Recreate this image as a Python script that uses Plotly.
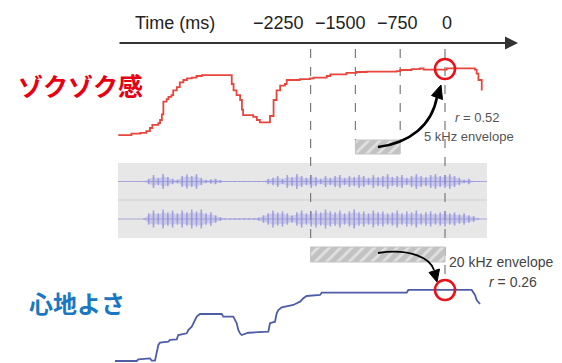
import numpy as np
import plotly.graph_objects as go

# ---------------- data ----------------
tick_values = [-2250, -1500, -750, 0]
tick_labels = ["\u22122250", "\u22121500", "\u2212750", "0"]
axis_title = "Time (ms)"

label_thrill = "ゾクゾク感"
label_comfort = "心地よさ"

# "thrill" rating over time (ms), stepwise
thrill_t = [-5470, -5250, -5100, -5000, -4940, -4900, -4800, -4770, -4740, -4715,
            -4660, -4630, -4580, -4550, -4490, -4440, -4380, -4320, -4240, -4160,
            -4070, -3570, -3540, -3490, -3430, -3400, -3380, -3210, -3150, -3100,
            -2930, -2870, -2820, -2760, -2680, -2650, -2430, -2260, -2200, -1980,
            -1920, -1650, -1480, -1310, -810, -750, -560, -420, -360, -200,
            30, 500, 530, 560, 615]
thrill_v = [6, 8, 9, 11, 15, 19, 21, 25, 32, 48,
            51, 54, 56, 62, 66, 72, 75, 77, 78, 80,
            81, 70, 62, 56, 50, 38, 31, 29, 25, 22,
            30, 50, 62, 68, 70, 75, 76, 77, 78, 80,
            82, 84, 85, 85.5, 86, 87.5, 88.5, 89.5, 88, 88,
            89.5, 88, 83, 75, 62]

# "comfort" rating over time (ms)
comfort_t = [-5524, -5161, -5134, -5022, -4938, -4910, -4855, -4799, -4771, -4632,
             -4604, -4491, -4465, -4324, -4297, -4240, -4185, -4157, -4101, -3738,
             -3711, -3544, -3487, -3460, -3432, -3404, -3293, -2958, -2930, -2846,
             -2818, -2790, -2734, -2539, -2483, -2427, -2372, -2315, -2093, -2064,
             -641, -614, 447, 502, 530, 586]
comfort_v = [1, 1, 3.3, 4.7, 4.7, 1.4, 1.4, 23.3, 26.5, 27.9,
             30.3, 31.2, 37.2, 39.6, 44.2, 48.8, 58.2, 62.8, 66.5, 66.5,
             62.8, 62.8, 53.6, 44.2, 39.6, 37.2, 40.4, 41.8, 53.6, 55.8,
             67.5, 72.1, 75.9, 79.1, 81.5, 83.7, 88.4, 91.6, 93, 96.2,
             96.2, 100, 100, 93, 86, 80.4]

# audio waveform envelope (two channels), sampled every 80 ms from -5040 ms
wave_start, wave_step = -5040, 80
wave_ch1 = [0.02, 0.15, 0.35, 0.2, 0.4, 0.25, 0.15, 0.1, 0.3, 0.38,
            0.3, 0.4, 0.2, 0.1, 0.12, 0.15, 0.08, 0.02, 0.02, 0.02,
            0.02, 0.02, 0.02, 0.02, 0.02, 0.02, 0.15, 0.2, 0.3, 0.15,
            0.35, 0.25, 0.4, 0.3, 0.2, 0.35, 0.25, 0.15, 0.3, 0.2,
            0.3, 0.35, 0.2, 0.3, 0.25, 0.35, 0.3, 0.2, 0.35, 0.25,
            0.3, 0.4, 0.25, 0.3, 0.35, 0.2, 0.3, 0.4, 0.3, 0.25,
            0.35, 0.4, 0.3, 0.35, 0.4, 0.3, 0.2, 0.1, 0.15, 0.02,
            0.02]
wave_ch2 = [0.03, 0.3, 0.45, 0.3, 0.5, 0.35, 0.45, 0.3, 0.45, 0.35,
            0.5, 0.4, 0.5, 0.3, 0.35, 0.2, 0.1, 0.03, 0.03, 0.03,
            0.03, 0.03, 0.03, 0.03, 0.08, 0.2, 0.3, 0.45, 0.35, 0.4,
            0.3, 0.2, 0.35, 0.45, 0.3, 0.4, 0.45, 0.35, 0.5, 0.4,
            0.35, 0.45, 0.3, 0.4, 0.5, 0.35, 0.4, 0.3, 0.45, 0.35,
            0.4, 0.3, 0.35, 0.45, 0.3, 0.4, 0.35, 0.45, 0.3, 0.35,
            0.4, 0.3, 0.35, 0.4, 0.3, 0.35, 0.25, 0.3, 0.2, 0.15,
            0.03]

# analysis windows (ms)
window_5k = (-1500, -750)
window_20k = (-2250, 0)
r_5k = "<i>r</i> = 0.52"
r_20k = "<i>r</i> = 0.26"
env_5k = "5 kHz envelope"
env_20k = "20 kHz envelope"

# ---------------- layout helpers ----------------
W, H = 562, 363
PX = 750 / 44.8          # ms per pixel
X0 = 445                 # pixel of t = 0
def tx(px):
    return (px - X0) * PX

def dom(py_bottom, py_top):
    return [(H - py_bottom) / H, (H - py_top) / H]

fig = go.Figure()

# waveform panel background
shapes = [
    dict(type="rect", xref="x", yref="y", x0=tx(118), x1=tx(487), y0=163, y1=238,
         fillcolor="#e7e7e7", line=dict(width=0), layer="below"),
    dict(type="line", xref="x", yref="y", x0=tx(118), x1=tx(487), y0=200, y1=200,
         line=dict(color="#cfcfcf", width=1.2), layer="below"),
    dict(type="line", xref="x", yref="y", x0=tx(118), x1=tx(487), y0=181.5, y1=181.5,
         line=dict(color="#a8a8d8", width=1), layer="below"),
    dict(type="line", xref="x", yref="y", x0=tx(118), x1=tx(487), y0=219, y1=219,
         line=dict(color="#a8a8d8", width=1), layer="below"),
]
# dashed time markers
dash_ends = {-2250: 247, -1500: 140, -750: 140, 0: 280}
for tv in tick_values:
    shapes.append(dict(type="line", xref="x", yref="y", x0=tv, x1=tv, y0=49,
                       y1=dash_ends[tv], line=dict(color="#7a7a7a", width=1.2, dash="dash"),
                       layer="below"))

# waveform traces: soft envelope + vertical strokes
wt = wave_start + wave_step * np.arange(len(wave_ch1))
for amp, ya in [(wave_ch1, "y4"), (wave_ch2, "y5")]:
    a = np.array(amp)
    fig.add_trace(go.Scatter(
        x=np.concatenate([wt, wt[::-1]]), y=np.concatenate([a * 0.7, -a[::-1] * 0.7]),
        fill="toself", fillcolor="rgba(150,150,225,0.35)",
        line=dict(width=0), mode="lines", yaxis=ya, hoverinfo="skip", showlegend=False))
    xs, ys = [], []
    for t, v in zip(wt, a):
        xs += [t, t, None]
        ys += [v, -v, None]
    fig.add_trace(go.Scatter(
        x=xs, y=ys, mode="lines", line=dict(color="rgba(140,140,222,0.75)", width=1.6),
        yaxis=ya, hoverinfo="skip", showlegend=False))

# rating curves
fig.add_trace(go.Scatter(x=thrill_t, y=thrill_v, mode="lines", yaxis="y2",
                         line=dict(color="#e8453c", width=1.8, shape="hv"),
                         showlegend=False))
fig.add_trace(go.Scatter(x=comfort_t, y=comfort_v, mode="lines", yaxis="y3",
                         line=dict(color="#4f5ca8", width=1.8),
                         showlegend=False))

# hatched windows
for (a0, a1), (ytop, ybot) in [(window_5k, (140, 154)), (window_20k, (247, 262))]:
    fig.add_trace(go.Scatter(
        x=[a0, a1, a1, a0, a0], y=[ytop, ytop, ybot, ybot, ytop], yaxis="y",
        mode="lines", fill="toself", fillcolor="#c2c2c2",
        fillpattern=dict(shape="/", bgcolor="#c2c2c2", fgcolor="#ffffff",
                         size=8, solidity=0.35),
        line=dict(color="#c2c2c2", width=1), hoverinfo="skip", showlegend=False))

# curved arrows
def P(px, py):
    return f"{tx(px):.1f},{py}"
shapes += [
    dict(type="path", xref="x", yref="y",
         path=f"M {P(378,147)} C {P(410,143)} {P(432,125)} {P(437,97)}",
         line=dict(color="black", width=2.6)),
    dict(type="path", xref="x", yref="y",
         path=f"M {P(441,85)} L {P(442.5,99.5)} L {P(431.5,95.5)} Z",
         fillcolor="black", line=dict(color="black", width=1)),
    dict(type="path", xref="x", yref="y",
         path=f"M {P(378,253)} C {P(410,248)} {P(430,258)} {P(434,270)}",
         line=dict(color="black", width=1.8)),
    dict(type="path", xref="x", yref="y",
         path=f"M {P(437,282)} L {P(439.5,269)} L {P(429,272.5)} Z",
         fillcolor="black", line=dict(color="black", width=1)),
    # red circles at 0 ms
    dict(type="circle", xref="x", yref="y", x0=tx(435), x1=tx(455), y0=59, y1=79,
         line=dict(color="#e8121c", width=2.6)),
    dict(type="circle", xref="x", yref="y", x0=tx(435), x1=tx(455), y0=280, y1=300,
         line=dict(color="#e8121c", width=2.6)),
]

ann = []
# time axis arrow
ann.append(dict(x=tx(518), y=43, ax=tx(118), ay=43, xref="x", yref="y", axref="x",
                ayref="y", showarrow=True, arrowhead=2, arrowsize=1.3, arrowwidth=2,
                arrowcolor="#333333", text=""))
tick_font = dict(family="Liberation Sans, Arial, sans-serif", size=18, color="#222222")
ann.append(dict(x=tx(175), y=23, xref="x", yref="y", text=axis_title, showarrow=False,
                font=tick_font))
shifts = [-32, -15, -3, 2]
for tv, tl, s in zip(tick_values, tick_labels, shifts):
    ann.append(dict(x=tv, y=23, xref="x", yref="y", text=tl, showarrow=False,
                    xshift=s, font=tick_font))
small = dict(family="Liberation Sans, Arial, sans-serif", size=13, color="#555555")
ann.append(dict(x=tx(477), y=117, xref="x", yref="y", text=r_5k, showarrow=False, font=small))
ann.append(dict(x=tx(469), y=136, xref="x", yref="y", text=env_5k, showarrow=False, font=small))
small2 = dict(family="Liberation Sans, Arial, sans-serif", size=14, color="#444444")
ann.append(dict(x=tx(447), y=262, xref="x", yref="y", text=env_20k, showarrow=False,
                xanchor="left", font=small2))
ann.append(dict(x=tx(513), y=282, xref="x", yref="y", text=r_20k, showarrow=False, font=small2))
# Japanese labels
ann.append(dict(x=tx(80), y=85, xref="x", yref="y", text=f"<b>{label_thrill}</b>",
                showarrow=False,
                font=dict(family="Noto Sans CJK JP", size=25, color="#e60012")))
ann.append(dict(x=tx(77), y=302, xref="x", yref="y", text=f"<b>{label_comfort}</b>",
                showarrow=False,
                font=dict(family="Noto Sans CJK JP", size=24, color="#1a78c2")))

hidden = dict(visible=False, showgrid=False, zeroline=False, fixedrange=True)
fig.update_layout(
    width=W, height=H, margin=dict(l=0, r=0, t=0, b=0),
    paper_bgcolor="white", plot_bgcolor="rgba(0,0,0,0)",
    xaxis=dict(range=[tx(0), tx(W)], domain=[0, 1], **hidden),
    yaxis=dict(range=[H, 0], domain=[0, 1], **hidden),
    yaxis2=dict(range=[-10, 110], domain=dom(148, 52), anchor="x", **hidden),
    yaxis3=dict(range=[-1.8, 110], domain=dom(363, 282.8), anchor="x", **hidden),
    yaxis4=dict(range=[-1, 1], domain=dom(200, 163), anchor="x", **hidden),
    yaxis5=dict(range=[-1, 1], domain=dom(238, 200), anchor="x", **hidden),
    shapes=shapes, annotations=ann, showlegend=False,
)
fig.write_html("out.html", config={"displayModeBar": False},
               post_script="document.body.style.margin='0';document.body.style.overflow='hidden';")
